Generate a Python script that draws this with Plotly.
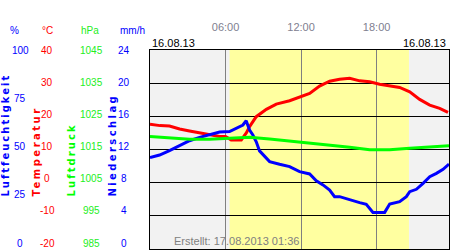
import plotly.graph_objects as go

# ---------------- data ----------------
hum_t = [0.0, 0.76, 1.55, 2.35, 3.14, 3.94, 4.73, 5.53, 6.32, 6.85, 7.38, 7.64, 7.91, 8.17,
         8.44, 8.70, 9.10, 9.50, 10.29, 11.09, 11.88, 12.68, 13.21, 13.74, 14.27, 14.66,
         15.06, 15.86, 16.65, 17.18, 17.71, 18.64, 19.04, 19.83, 20.36, 20.63, 21.16,
         21.69, 22.22, 22.75, 23.28, 23.75]
hum_v = [45.9, 47.2, 49.4, 51.8, 54.4, 56.1, 57.4, 58.8, 59.0, 60.6, 62.3, 64.5, 59.8, 57.3,
         53.9, 49.3, 46.4, 43.9, 42.6, 41.4, 38.9, 37.7, 34.3, 32.2, 29.6, 26.3,
         26.3, 24.6, 23.3, 22.5, 18.4, 18.4, 22.6, 23.8, 26.3, 28.8, 30.0,
         33.0, 36.3, 38.0, 40.0, 42.7]

temp_t = [0.0, 0.8, 1.55, 2.35, 3.14, 3.94, 4.73, 5.53, 6.0, 6.45, 7.25, 7.65, 7.91, 8.17,
          8.44, 9.24, 10.03, 11.09, 11.88, 12.68, 13.47, 14.27, 15.06, 15.86, 16.65,
          17.45, 18.24, 19.04, 19.83, 20.63, 21.42, 22.22, 23.01, 23.67]
temp_v = [17.6, 17.2, 17.1, 16.2, 15.6, 15.1, 14.5, 13.9, 13.9, 12.9, 12.9, 15.0, 16.9, 18.4,
          19.9, 22.1, 23.7, 24.7, 25.9, 26.9, 29.1, 30.6, 31.2, 31.5, 30.7,
          30.4, 29.7, 29.1, 28.7, 27.4, 25.1, 23.4, 22.4, 21.2]

pres_t = [0.0, 1.55, 3.14, 4.73, 6.32, 7.91, 9.50, 11.09, 12.68, 14.27, 15.86, 17.45,
          19.04, 20.63, 22.22, 23.75]
pres_v = [1018.9, 1018.5, 1018.1, 1018.1, 1018.3, 1018.7, 1018.2, 1017.6, 1017.0, 1016.4,
          1015.7, 1014.9, 1014.9, 1015.4, 1015.8, 1016.1]

sunrise, sunset = 6.32, 20.57
hour_ticks = [6, 12, 18]
hour_labels = ["06:00", "12:00", "18:00"]

hum_ticks = [0, 25, 50, 75, 100]
temp_ticks = [-20, -10, 0, 10, 20, 30, 40]
pres_ticks = [985, 995, 1005, 1015, 1025, 1035, 1045]
prec_ticks = [0, 4, 8, 12, 16, 20, 24]

date_label = "16.08.13"
created_label = "Erstellt: 17.08.2013 01:36"

# ---------------- figure ----------------
W, H = 450, 250
ML, MR, MT, MB = 150, 1, 50, 1
PW, PH = W - ML - MR, H - MT - MB

BLUE, RED, GREEN = "#0000ff", "#ff0000", "#00ff00"
FONT = "Liberation Sans, Arial, sans-serif"

fig = go.Figure()
fig.add_trace(go.Scatter(x=pres_t, y=pres_v, yaxis="y3", mode="lines",
                         line=dict(color=GREEN, width=3), hoverinfo="skip"))
fig.add_trace(go.Scatter(x=temp_t, y=temp_v, yaxis="y", mode="lines",
                         line=dict(color=RED, width=3), hoverinfo="skip"))
fig.add_trace(go.Scatter(x=hum_t, y=hum_v, yaxis="y2", mode="lines",
                         line=dict(color=BLUE, width=3), hoverinfo="skip"))

fig.add_shape(type="rect", xref="x", yref="paper", x0=sunrise, x1=sunset, y0=0, y1=1,
              fillcolor="#ffffa0", line=dict(width=0), layer="below")


def px_x(px):
    return (px - ML) / PW


def px_y(py):
    return (H - MB - py) / PH


ann = []


def col_labels(ticks, cx, color):
    lo, hi = ticks[0], ticks[-1]
    for v in ticks:
        frac = (v - lo) / (hi - lo)
        ann.append(dict(x=px_x(cx), y=0.03 + 0.97 * frac, xref="paper", yref="paper",
                        text=str(v), showarrow=False, xanchor="center", yanchor="middle",
                        font=dict(family=FONT, size=10, color=color)))


col_labels(hum_ticks, 20, BLUE)
col_labels(temp_ticks, 47, RED)
col_labels(pres_ticks, 91, "#22ee22")
col_labels(prec_ticks, 124, BLUE)

for txt, cx, col in [("%", 14, BLUE), ("°C", 47, RED), ("hPa", 90, "#22ee22"), ("mm/h", 132, BLUE)]:
    ann.append(dict(x=px_x(cx), y=px_y(31), xref="paper", yref="paper", text=txt,
                    showarrow=False, xanchor="center", yanchor="middle",
                    font=dict(family=FONT, size=10, color=col)))

for txt, cx, col, ls in [("Luftfeuchtigkeit", 5, BLUE, 2.0), ("Temperatur", 35.5, RED, 2.5),
                         ("Luftdruck", 71, GREEN, 2.1), ("Niederschlag", 112, BLUE, 2.4)]:
    ann.append(dict(x=px_x(cx), y=px_y(199), xref="paper", yref="paper",
                    text='<span style="letter-spacing:%.1fpx">%s</span>' % (ls, txt),
                    textangle=-90, showarrow=False, xanchor="center", yanchor="bottom",
                    font=dict(family="DejaVu Sans, sans-serif", size=10, color=col, weight="bold")))

ann.append(dict(x=0, y=px_y(43), xref="paper", yref="paper", text=date_label, showarrow=False,
                xanchor="left", yanchor="middle", font=dict(family=FONT, size=11, color="#000000")))
ann.append(dict(x=px_x(447.5), y=px_y(43), xref="paper", yref="paper", text=date_label,
                showarrow=False, xanchor="right", yanchor="middle",
                font=dict(family=FONT, size=11, color="#000000")))
ann.append(dict(x=px_x(236), y=px_y(241), xref="paper", yref="paper", text=created_label,
                showarrow=False, xanchor="center", yanchor="middle",
                font=dict(family=FONT, size=11, color="#808080")))

fig.update_layout(
    width=W, height=H, margin=dict(l=ML, r=MR, t=MT, b=MB, pad=0),
    paper_bgcolor="white", plot_bgcolor="#f2f2f2", showlegend=False,
    annotations=ann,
    xaxis=dict(range=[0, 23.75], side="top", tickvals=hour_ticks, ticktext=hour_labels,
               tickfont=dict(family=FONT, size=11, color="#808090"), ticks="",
               ticklabelstandoff=14,
               showgrid=True, gridcolor="#808080", gridwidth=1, zeroline=False,
               showline=True, mirror=True, linecolor="black", linewidth=1, fixedrange=True),
    yaxis=dict(range=[-20, 40], tickvals=temp_ticks[1:-1], showticklabels=False, ticks="",
               showgrid=True, gridcolor="black", gridwidth=1, zeroline=False,
               showline=True, mirror=True, linecolor="black", linewidth=1, fixedrange=True),
    yaxis2=dict(range=[0, 100], overlaying="y", visible=False, fixedrange=True),
    yaxis3=dict(range=[985, 1045], overlaying="y", visible=False, fixedrange=True),
)

fig.write_html("out.html", config={"displayModeBar": False, "staticPlot": True})
